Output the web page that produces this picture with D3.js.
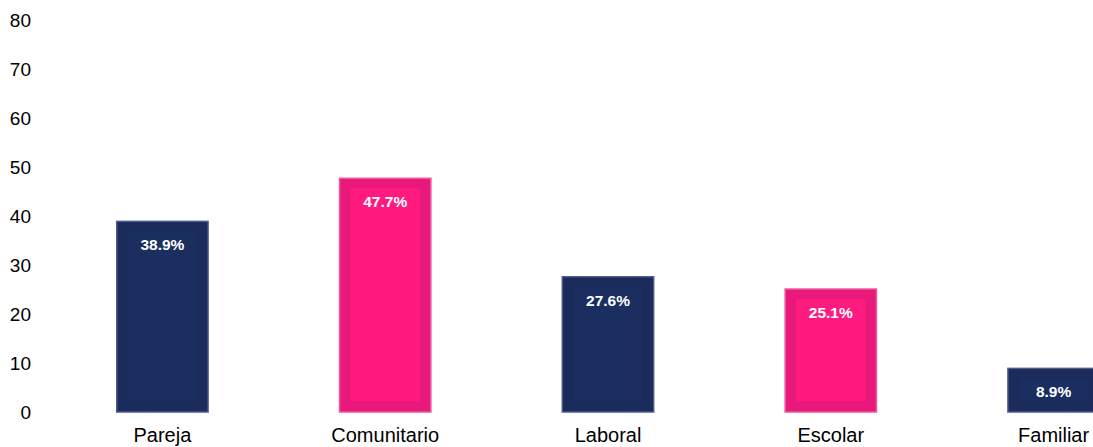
<!DOCTYPE html>
<html><head><meta charset="utf-8">
<script src="https://cdn.jsdelivr.net/npm/d3@7"></script>
<style>body{margin:0;background:#fff;overflow:hidden}svg{display:block}text{font-family:"Liberation Sans",Arial,sans-serif}</style>
</head><body>
<script>
const categories = ["Pareja","Comunitario","Laboral","Escolar","Familiar"];
const values = [38.9, 47.7, 27.6, 25.1, 8.9];
const labels = ["38.9%","47.7%","27.6%","25.1%","8.9%"];
const yTicks = [0,10,20,30,40,50,60,70,80];
const palette = [
  {outer:"#1b2b5b", inner:"#1a2e60", line:"#4b5d87"},
  {outer:"#e8197a", inner:"#ff1a80", line:"#ee5a9c"}
];

const W = 1093, H = 447;
const svg = d3.select("body").append("svg").attr("width", W).attr("height", H);
const x = d3.scaleBand().domain(categories).range([51, 1165]).paddingInner(0.59).paddingOuter(0.295);
const y = d3.scaleLinear().domain([0, 80]).range([412, 20]);

const yAxis = svg.append("g").attr("transform", "translate(31,0)")
  .call(d3.axisLeft(y).tickValues(yTicks).tickSize(0).tickPadding(0));
yAxis.select(".domain").remove();
yAxis.selectAll("text").attr("font-size", 19).attr("fill", "#000").attr("font-family", "Liberation Sans, Arial, sans-serif");

const xAxis = svg.append("g").attr("transform", "translate(0,412)")
  .call(d3.axisBottom(x).tickSize(0).tickPadding(16));
xAxis.select(".domain").remove();
xAxis.selectAll("text").attr("font-size", 20).attr("fill", "#000").attr("font-family", "Liberation Sans, Arial, sans-serif");

const bars = svg.append("g").selectAll("g").data(categories).join("g");
bars.append("rect")
  .attr("x", d => x(d)).attr("width", x.bandwidth())
  .attr("y", (d,i) => y(values[i])).attr("height", (d,i) => y(0) - y(values[i]))
  .attr("fill", (d,i) => palette[i%2].outer)
  .attr("stroke", (d,i) => palette[i%2].line).attr("stroke-width", 1.5);
bars.append("rect")
  .attr("x", d => x(d) + 11).attr("width", x.bandwidth() - 22)
  .attr("y", (d,i) => y(values[i]) + 10).attr("height", (d,i) => Math.max(0, y(0) - y(values[i]) - 21))
  .attr("fill", (d,i) => palette[i%2].inner);
bars.append("text")
  .attr("x", d => x(d) + x.bandwidth()/2)
  .attr("y", (d,i) => y(values[i]) + 29)
  .attr("text-anchor", "middle").attr("font-size", 15.5).attr("font-weight", "bold").attr("fill", "#fff")
  .text((d,i) => labels[i]);
</script>
</body></html>
